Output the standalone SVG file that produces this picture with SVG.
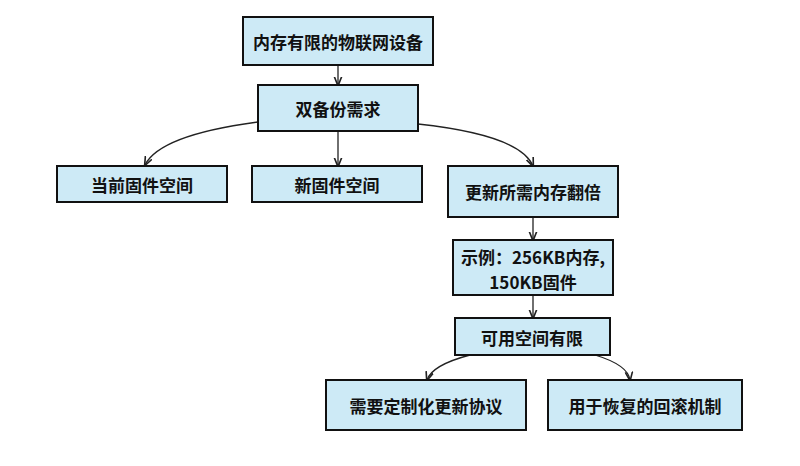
<svg xmlns="http://www.w3.org/2000/svg" width="800" height="466" viewBox="0 0 800 466">
<style>
.n{fill:#cdeaf6;stroke:#111;stroke-width:2}
.t{font-family:"Noto Sans CJK SC","Noto Sans",sans-serif;font-size:17px;font-weight:bold;fill:#111;text-anchor:middle;dominant-baseline:central}
.c{fill:none;stroke:#222;stroke-width:1.3;marker-end:url(#a)}
</style>
<defs><marker id="a" viewBox="0 0 10 10" refX="9" refY="5" markerWidth="7" markerHeight="7" orient="auto"><path d="M0,1 L10,5 L0,9" fill="none" stroke="#222" stroke-width="1.8"/></marker></defs>
<rect width="800" height="466" fill="#fff"/>
<g id="connectors">
<path class="c" d="M338,65 V85"/>
<path class="c" d="M258,122 Q160,135 145,165"/>
<path class="c" d="M338,131 V166"/>
<path class="c" d="M418,124 Q520,135 533,166"/>
<path class="c" d="M533,217 V240"/>
<path class="c" d="M533,295 V318"/>
<path class="c" d="M470,355 Q432,365 427,380"/>
<path class="c" d="M595,355 Q628,365 630,380"/>
</g>
<g id="n1"><rect class="n" x="243" y="17" width="190" height="48"/><text class="t" x="338" y="41">内存有限的物联网设备</text></g>
<g id="n2"><rect class="n" x="258" y="85" width="160" height="46"/><text class="t" x="338" y="108">双备份需求</text></g>
<g id="n3"><rect class="n" x="57" y="166" width="170" height="36"/><text class="t" x="142" y="184">当前固件空间</text></g>
<g id="n4"><rect class="n" x="252" y="166" width="170" height="36"/><text class="t" x="337" y="184">新固件空间</text></g>
<g id="n5"><rect class="n" x="448" y="166" width="170" height="51"/><text class="t" x="533" y="191">更新所需内存翻倍</text></g>
<g id="n6"><rect class="n" x="453" y="240" width="160" height="55"/><text class="t" x="533" y="256">示例：256KB内存,</text><text class="t" x="533" y="281">150KB固件</text></g>
<g id="n7"><rect class="n" x="455" y="318" width="155" height="37"/><text class="t" x="532" y="337">可用空间有限</text></g>
<g id="n8"><rect class="n" x="326" y="380" width="200" height="50"/><text class="t" x="426" y="405">需要定制化更新协议</text></g>
<g id="n9"><rect class="n" x="548" y="380" width="194" height="50"/><text class="t" x="645" y="405">用于恢复的回滚机制</text></g>
</svg>
